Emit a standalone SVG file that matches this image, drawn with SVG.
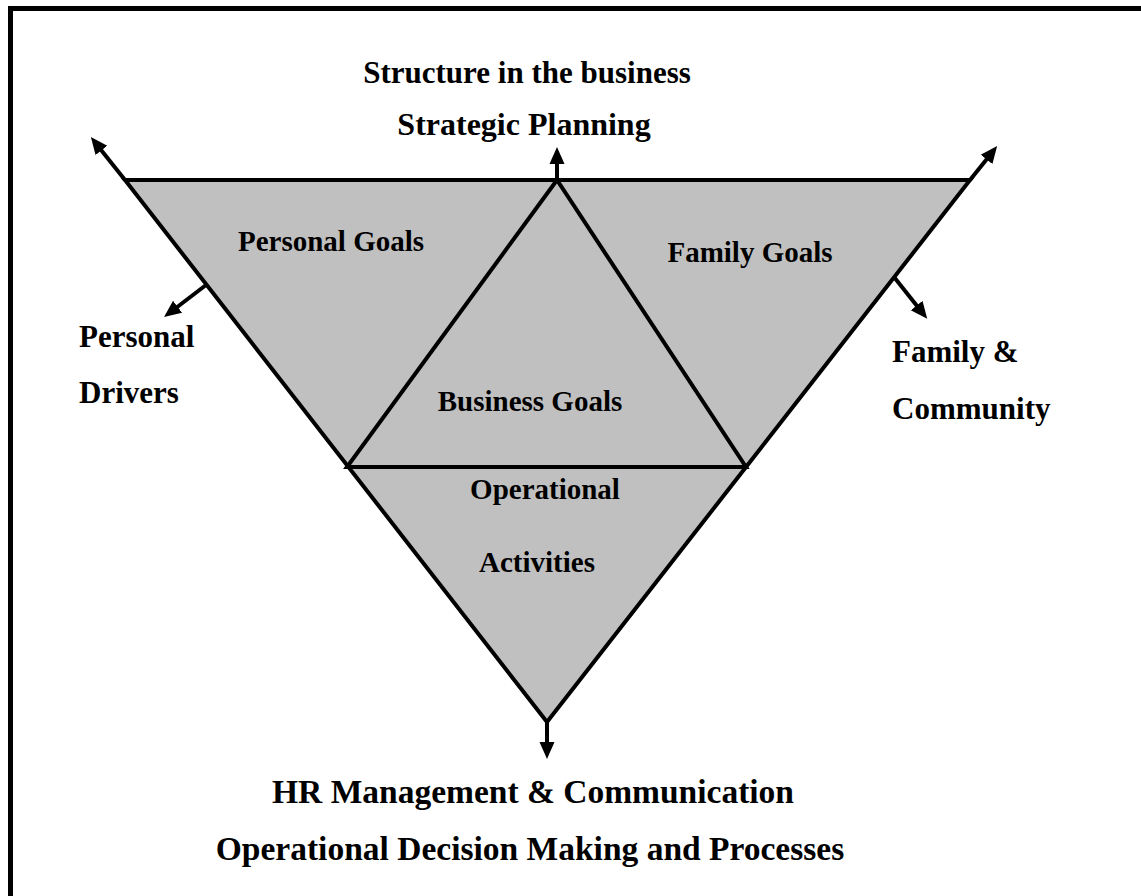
<svg xmlns="http://www.w3.org/2000/svg" width="1141" height="896" viewBox="0 0 1141 896">
<style>
.t{font-family:"Liberation Serif","Times New Roman",serif;font-weight:bold;fill:#000}
.big{font-size:31px}
.top{font-size:31px}
.bot{font-size:33.5px}
.mid{font-size:29px}
.shape{fill:#c0c0c0;stroke:#000;stroke-width:4;stroke-linejoin:miter}
.arr{fill:none;stroke:#000;stroke-width:4;marker-end:url(#ah)}
</style>
<defs>
<marker id="ah" markerUnits="userSpaceOnUse" markerWidth="18" markerHeight="16" viewBox="0 0 18 16" refX="7" refY="8" orient="auto">
<path d="M0,0.5 L17,8 L0,15.5 z" fill="#000"/>
</marker>
</defs>
<rect width="1141" height="896" fill="#fff"/>
<path d="M10.5,896 V8.5 H1141" fill="none" stroke="#000" stroke-width="5"/>
<g id="outer-triangle">
<polygon class="shape" points="125,180 970,180 547,722"/>
</g>
<g id="business-goals">
<polygon class="shape" points="557,180 347,467 746,467"/>
<text class="t mid" x="530" y="411" text-anchor="middle">Business Goals</text>
</g>
<g id="personal-goals">
<text class="t mid" x="331" y="251" text-anchor="middle">Personal Goals</text>
</g>
<g id="family-goals">
<text class="t mid" x="750" y="262" text-anchor="middle">Family Goals</text>
</g>
<g id="operational-activities">
<text class="t mid" x="545" y="499" text-anchor="middle">Operational</text>
<text class="t mid" x="537" y="572" text-anchor="middle">Activities</text>
</g>
<g id="connectors">
<line class="arr" x1="125" y1="180" x2="97.1" y2="144.9"/>
<line class="arr" x1="970" y1="180" x2="990.9" y2="153.9"/>
<line class="arr" x1="557" y1="180" x2="557" y2="157"/>
<line class="arr" x1="547" y1="722" x2="547" y2="749"/>
<line class="arr" x1="206" y1="285" x2="172" y2="311"/>
<line class="arr" x1="894" y1="277" x2="921" y2="311"/>
</g>
<g id="strategic">
<text class="t top" x="527" y="83" text-anchor="middle">Structure in the business</text>
<text class="t" style="font-size:32px" x="524" y="135" text-anchor="middle">Strategic Planning</text>
</g>
<g id="personal-drivers">
<text class="t big" x="79" y="347">Personal</text>
<text class="t big" x="79" y="403">Drivers</text>
</g>
<g id="family-community">
<text class="t big" x="892" y="362">Family &amp;</text>
<text class="t big" x="892" y="419">Community</text>
</g>
<g id="operational">
<text class="t bot" x="533" y="803" text-anchor="middle">HR Management &amp; Communication</text>
<text class="t bot" x="530" y="860" text-anchor="middle">Operational Decision Making and Processes</text>
</g>
</svg>
